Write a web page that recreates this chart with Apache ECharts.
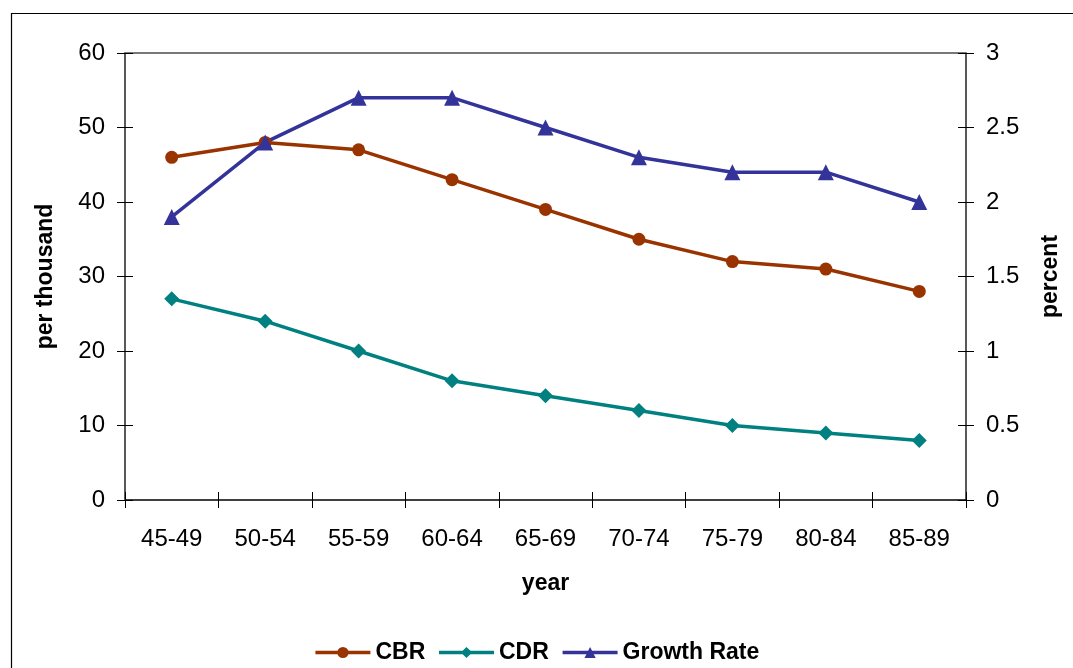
<!DOCTYPE html>
<html>
<head>
<meta charset="utf-8">
<script src="https://cdn.jsdelivr.net/npm/echarts@6/dist/echarts.min.js"></script>
<style>
  html, body { margin: 0; padding: 0; background: #fff; }
  #chart { width: 1073px; height: 668px; }
</style>
</head>
<body>
<div id="chart"></div>
<script>
// Five-year periods
const years = ['45-49', '50-54', '55-59', '60-64', '65-69', '70-74', '75-79', '80-84', '85-89'];
// Crude birth rate and crude death rate, per thousand
const cbr = [46, 48, 47, 43, 39, 35, 32, 31, 28];
const cdr = [27, 24, 20, 16, 14, 12, 10, 9, 8];
// Natural growth rate, percent
const growth = [1.9, 2.4, 2.7, 2.7, 2.5, 2.3, 2.2, 2.2, 2.0];

const FONT = '"Liberation Sans", Arial, sans-serif';
// Axes sit 8px inside the plot frame with 16px outward ticks, so each tick
// crosses the frame line (drawn by the grid border) on both sides.
const TICK_HALF = 8;
const crossTick = { show: true, inside: false, length: TICK_HALF * 2, lineStyle: { color: '#000', width: 1 } };
const labelStyle = { color: '#000', fontFamily: FONT, fontSize: 24 };
const nameStyle = { color: '#000', fontFamily: FONT, fontSize: 23, fontWeight: 'bold' };

const chart = echarts.init(document.getElementById('chart'), null, { renderer: 'canvas' });

chart.setOption({
  backgroundColor: '#fff',
  animation: false,
  graphic: [{
    type: 'rect',
    shape: { x: 11.5, y: 13.5, width: 1200, height: 800 },
    style: { fill: 'none', stroke: '#000', lineWidth: 1.2 },
    silent: true
  }],
  grid: {
    left: 125, right: 107, top: 53, bottom: 168,
    show: true, borderColor: '#000', borderWidth: 1.3, backgroundColor: 'transparent'
  },
  legend: {
    top: 636,
    left: 'center',
    itemWidth: 55,
    itemHeight: 14,
    itemGap: 12,
    textStyle: { color: '#000', fontFamily: FONT, fontSize: 23, fontWeight: 'bold' },
    data: [
      { name: 'CBR', lineStyle: { width: 3.5 } },
      { name: 'CDR', lineStyle: { width: 3.5 } },
      { name: 'Growth Rate', lineStyle: { width: 3.5 } }
    ]
  },
  xAxis: [{
    type: 'category',
    data: years,
    position: 'bottom',
    offset: -TICK_HALF,
    boundaryGap: true,
    axisLine: { show: false, onZero: false },
    axisTick: crossTick,
    axisLabel: Object.assign({ margin: 27 + TICK_HALF }, labelStyle),
    splitLine: { show: false },
    name: 'year',
    nameLocation: 'middle',
    nameGap: 72 + TICK_HALF,
    nameTextStyle: nameStyle
  }, {
    // grey top edge of the plot area
    type: 'category',
    data: years,
    position: 'top',
    boundaryGap: true,
    axisLine: { show: true, onZero: false, lineStyle: { color: '#8c8c8c', width: 1.6 } },
    axisTick: { show: false },
    axisLabel: { show: false },
    splitLine: { show: false }
  }],
  yAxis: [{
    type: 'value',
    position: 'left',
    offset: -TICK_HALF,
    min: 0, max: 60, interval: 10,
    axisLine: { show: false },
    axisTick: crossTick,
    axisLabel: Object.assign({ margin: 20 + TICK_HALF }, labelStyle),
    splitLine: { show: false },
    name: 'per thousand',
    nameLocation: 'middle',
    nameRotate: 90,
    nameGap: 68 + TICK_HALF,
    nameTextStyle: nameStyle
  }, {
    type: 'value',
    position: 'right',
    offset: -TICK_HALF,
    min: 0, max: 3, interval: 0.5,
    axisLine: { show: false },
    axisTick: crossTick,
    axisLabel: Object.assign({ margin: 20 + TICK_HALF }, labelStyle),
    splitLine: { show: false },
    name: 'percent',
    nameLocation: 'middle',
    nameRotate: 90,
    nameGap: 73 + TICK_HALF,
    nameTextStyle: nameStyle
  }],
  series: [{
    name: 'CBR',
    type: 'line',
    xAxisIndex: 0,
    yAxisIndex: 0,
    data: cbr,
    symbol: 'circle',
    symbolSize: 13,
    lineStyle: { color: '#993300', width: 3.5 },
    itemStyle: { color: '#993300' }
  }, {
    name: 'CDR',
    type: 'line',
    xAxisIndex: 0,
    yAxisIndex: 0,
    data: cdr,
    symbol: 'diamond',
    symbolSize: 15,
    lineStyle: { color: '#008080', width: 3.5 },
    itemStyle: { color: '#008080' }
  }, {
    name: 'Growth Rate',
    type: 'line',
    xAxisIndex: 0,
    yAxisIndex: 1,
    data: growth,
    symbol: 'triangle',
    symbolSize: 16,
    lineStyle: { color: '#333399', width: 3.5 },
    itemStyle: { color: '#333399' }
  }]
});
</script>
</body>
</html>
